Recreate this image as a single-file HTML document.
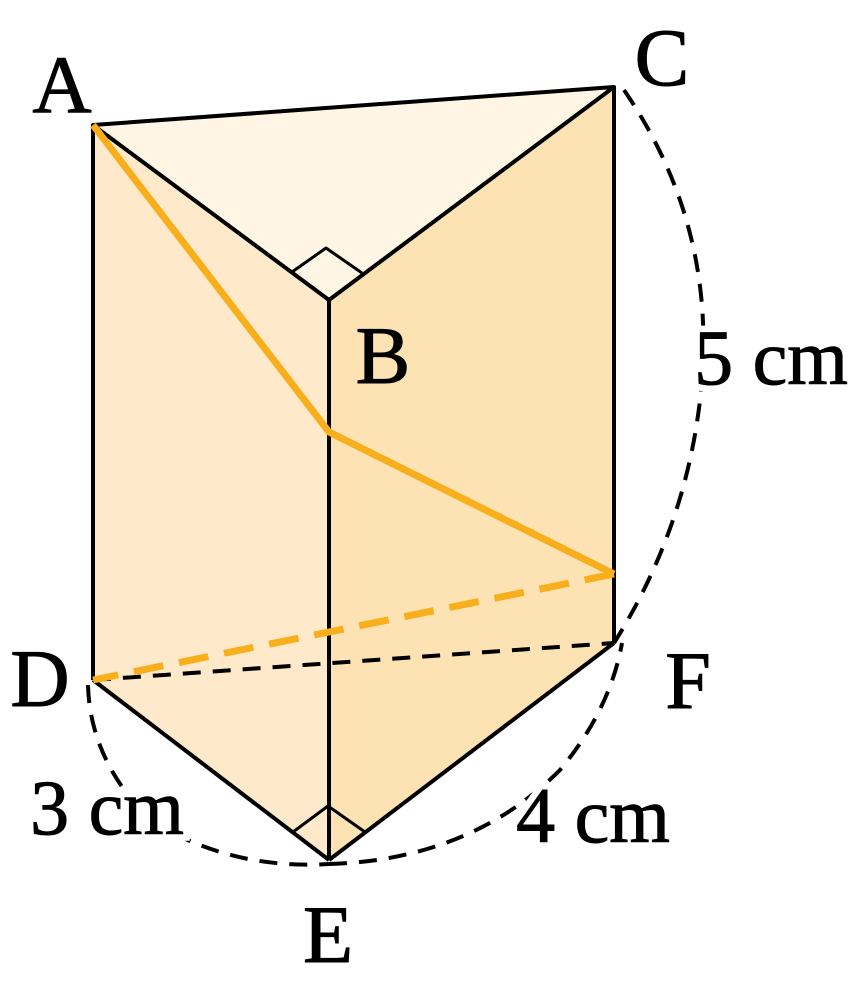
<!DOCTYPE html>
<html><head><meta charset="utf-8"><style>html,body{margin:0;padding:0;background:#fff}svg{display:block}</style></head>
<body>
<svg width="868" height="995" viewBox="0 0 868 995" xmlns="http://www.w3.org/2000/svg">
<polygon points="93,125 614,87 329,300" fill="#fef5e4"/>
<polygon points="93,125 329,300 329,860 93,680" fill="#feeacb"/>
<polygon points="329,300 614,87 614,643 329,860" fill="#fde2b3"/>
<g fill="none" stroke="#000" stroke-width="4" stroke-dasharray="18,12">
<line x1="93" y1="680" x2="614" y2="643"/>
<path d="M624,90 Q720,230 700,400 Q685,530 614,643"/>
<path d="M88,685 Q90,760 150,820 Q230,870 329,864"/>
<path d="M329,864 Q470,860 560,770 Q610,710 622,643"/>
</g>
<g fill="none" stroke="#000" stroke-width="4" stroke-linejoin="round">
<polygon points="93,125 614,87 329,300"/>
<line x1="93" y1="125" x2="93" y2="680"/>
<line x1="614" y1="87" x2="614" y2="643"/>
<line x1="329" y1="300" x2="329" y2="860"/>
<line x1="93" y1="680" x2="329" y2="860"/>
<line x1="614" y1="643" x2="329" y2="860"/>
<polyline points="292,272 326,248 362,273" stroke-width="3"/>
<polyline points="293,832 328,806 365,832" stroke-width="3"/>
</g>
<polyline points="93,125 329,432 614,574" fill="none" stroke="#f9ae1c" stroke-width="7" stroke-linejoin="round"/>
<line x1="614" y1="574" x2="93" y2="680" stroke="#f9ae1c" stroke-width="7" stroke-dasharray="30,16"/>
<g font-family="Liberation Serif, serif" font-size="82" fill="#000" stroke="#000" stroke-width="1" text-anchor="middle">
<text x="62" y="112">A</text>
<text x="662" y="85">C</text>
<text x="383" y="383">B</text>
<text x="40" y="706">D</text>
<text x="688" y="708">F</text>
<text x="328" y="962">E</text>
<text x="771" y="384" font-size="78" stroke="#fff" stroke-width="14" paint-order="stroke">5 cm</text>
<text x="107" y="834" font-size="78" stroke="#fff" stroke-width="14" paint-order="stroke">3 cm</text>
<text x="593" y="842" font-size="78" stroke="#fff" stroke-width="14" paint-order="stroke">4 cm</text>
<text x="771" y="384" font-size="78">5 cm</text>
<text x="107" y="834" font-size="78">3 cm</text>
<text x="593" y="842" font-size="78">4 cm</text>
</g>
</svg>
</body></html>
